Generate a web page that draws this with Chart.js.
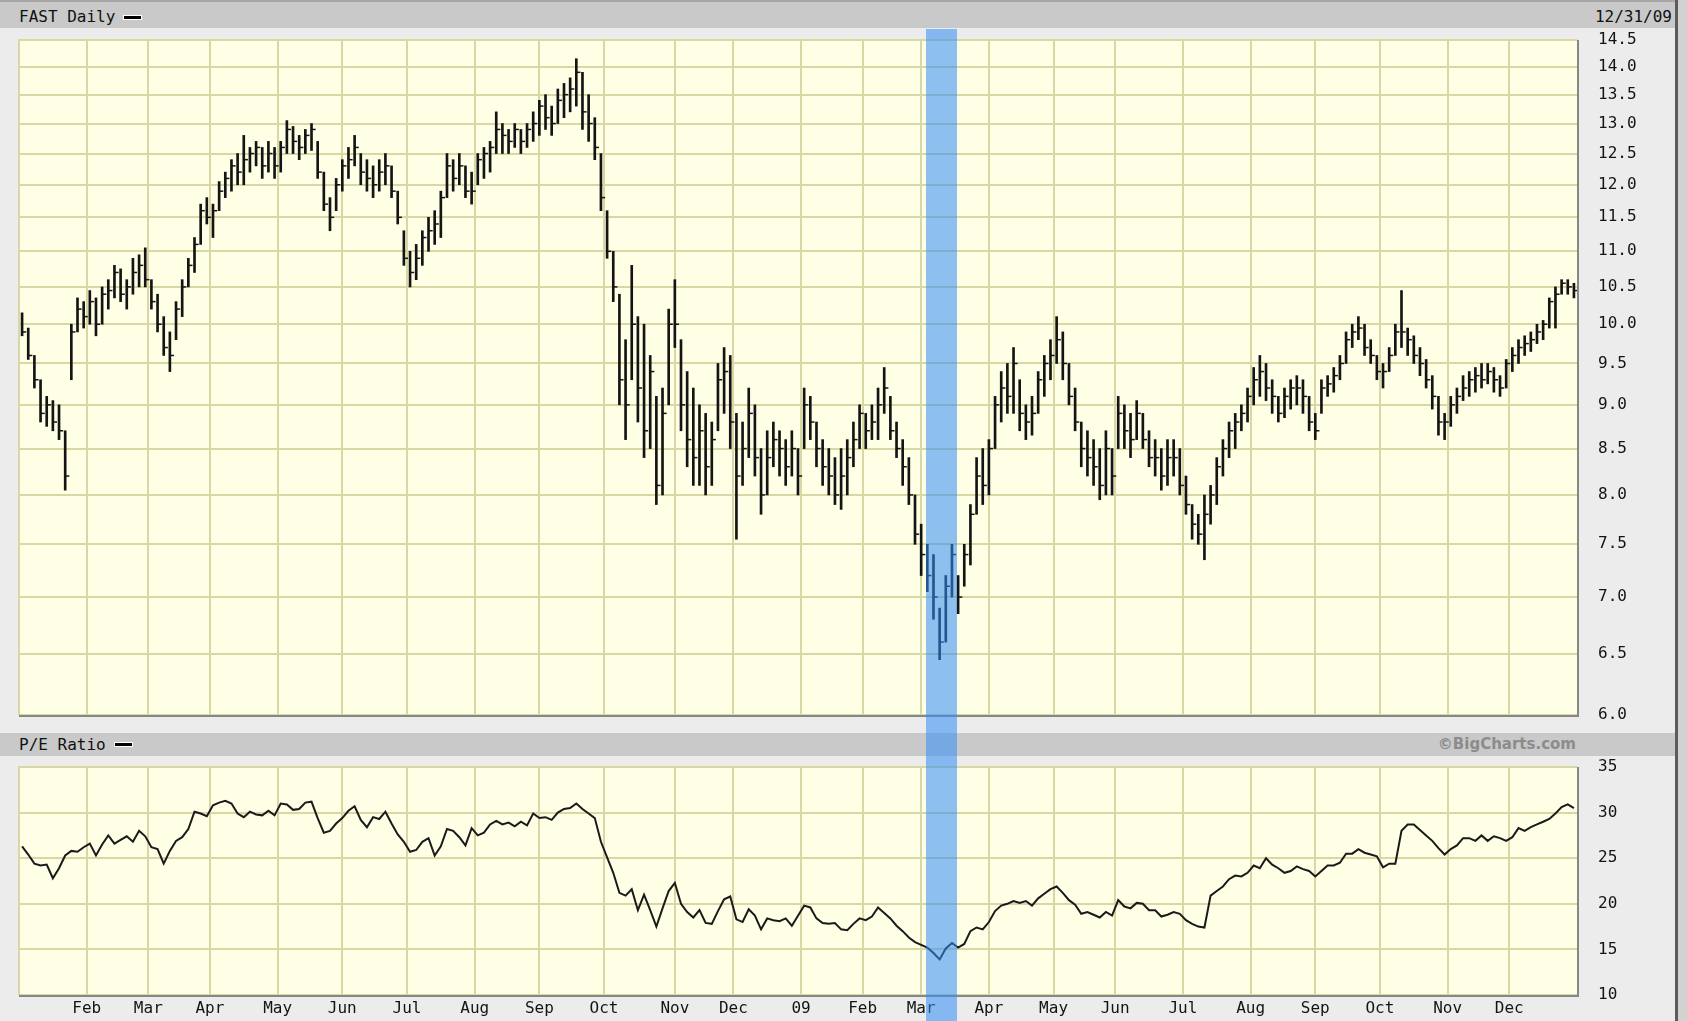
<!DOCTYPE html>
<html>
<head>
<meta charset="utf-8">
<script src="https://cdn.jsdelivr.net/npm/chart.js@4.4.1/dist/chart.umd.min.js"></script>
<style>
html, body { margin: 0; padding: 0; }
body { width: 1687px; height: 1021px; background: #ececec; position: relative; overflow: hidden;
       font-family: "DejaVu Sans Mono", monospace; color: #111; }
.hdr { position: absolute; left: 0; width: 1676px; background: #c9c9c9; }
.hdr .t { position: absolute; left: 19px; font-size: 16px; line-height: 18px; }
.hdr .key { position: absolute; width: 17px; height: 3px; background: #000; border: 1px solid #fff; }
#h1 { top: 0; height: 26px; border-top: 2px solid #a6a6a6; }
#h2 { top: 733px; height: 23px; }
#date { position: absolute; right: 4px; top: 6px; font-size: 16px; line-height: 18px; }
#copy { position: absolute; right: 100px; top: 2px; font: bold 15px "DejaVu Sans", sans-serif; color: #8c8c8c; }
#edge { position: absolute; left: 1675px; top: 0; width: 3px; height: 1021px; background: #5c5c5c; }
#outer { position: absolute; left: 1678px; top: 0; width: 9px; height: 1021px; background: #d2d2d2; }
canvas { position: absolute; left: 0; }
#band { position: absolute; top: 29px; height: 992px; background: rgba(50, 140, 245, 0.55); pointer-events: none; z-index: 5; }
</style>
</head>
<body>
<div class="hdr" id="h1"><span class="t" style="top:6px">FAST Daily</span><span class="key" style="left:123px;top:13px"></span><span id="date">12/31/09</span></div>
<canvas id="top" width="1676" height="695" style="top:30px"></canvas>
<div class="hdr" id="h2"><span class="t" style="top:3px">P/E Ratio</span><span class="key" style="left:114px;top:9px"></span><span id="copy">©BigCharts.com</span></div>
<canvas id="pe" width="1676" height="264" style="top:757px"></canvas>
<div id="edge"></div><div id="outer"></div>
<div id="band"></div>
<script>
// trading-day axis: Jan 2 2008 = day 0, Dec 31 2009 = day 504
const monthStarts = [21, 41, 61, 83, 104, 125, 147, 168, 189, 212, 231, 253, 273, 292, 314, 335, 355, 377, 399, 420, 441, 463, 483];
const monthLabels = ['Feb', 'Mar', 'Apr', 'May', 'Jun', 'Jul', 'Aug', 'Sep', 'Oct', 'Nov', 'Dec', '09', 'Feb', 'Mar', 'Apr', 'May', 'Jun', 'Jul', 'Aug', 'Sep', 'Oct', 'Nov', 'Dec'];
const priceTicks = [6.0, 6.5, 7.0, 7.5, 8.0, 8.5, 9.0, 9.5, 10.0, 10.5, 11.0, 11.5, 12.0, 12.5, 13.0, 13.5, 14.0, 14.5];
const peTicks = [10, 15, 20, 25, 30, 35];
const sampleStep = 2; // one bar / point every 2 trading days
const bandFrom = 293.5, bandTo = 303.5; // highlighted period (trading days)

const priceHigh = [
  10.15, 9.95, 9.6, 9.3, 9.1, 9.05, 9.0, 8.7, 10.0, 10.35,
  10.3, 10.45, 10.35, 10.5, 10.6, 10.8, 10.75, 10.6, 10.9, 10.95,
  11.05, 10.6, 10.4, 10.1, 9.9, 10.3, 10.6, 10.9, 11.2, 11.7,
  11.8, 11.7, 12.05, 12.2, 12.4, 12.5, 12.8, 12.6, 12.7, 12.6,
  12.7, 12.6, 12.7, 13.05, 12.95, 12.8, 12.9, 13.0, 12.7, 12.2,
  11.8, 12.1, 12.4, 12.6, 12.8, 12.5, 12.4, 12.3, 12.4, 12.5,
  12.3, 11.9, 11.3, 11.0, 11.1, 11.3, 11.5, 11.6, 11.9, 12.5,
  12.4, 12.5, 12.3, 12.2, 12.5, 12.6, 12.7, 13.2, 13.0, 12.9,
  13.0, 12.9, 13.0, 13.2, 13.4, 13.5, 13.3, 13.6, 13.7, 13.8,
  14.15, 13.9, 13.5, 13.1, 12.5, 11.6, 11.0, 10.4, 9.8, 10.8,
  10.1, 10.0, 9.6, 9.1, 9.2, 10.2, 10.6, 9.8, 9.4, 9.2,
  9.0, 8.9, 8.8, 9.5, 9.7, 9.6, 8.9, 8.8, 9.2, 9.0,
  8.5, 8.7, 8.8, 8.7, 8.6, 8.7, 8.5, 9.2, 9.1, 8.8,
  8.6, 8.5, 8.4, 8.5, 8.6, 8.8, 9.0, 8.9, 9.0, 9.2,
  9.45, 9.1, 8.8, 8.6, 8.4, 8.0, 7.7, 7.5, 7.4, 6.9,
  7.2, 7.5, 7.2, 7.5, 7.9, 8.4, 8.5, 8.6, 9.1, 9.4,
  9.5, 9.7, 9.3, 9.0, 9.1, 9.4, 9.6, 9.8, 10.1, 9.9,
  9.5, 9.2, 8.8, 8.7, 8.6, 8.5, 8.7, 8.5, 9.1, 9.0,
  8.9, 9.05, 8.9, 8.7, 8.6, 8.5, 8.6, 8.6, 8.5, 8.2,
  7.9, 7.8, 8.0, 8.1, 8.4, 8.6, 8.8, 8.9, 9.0, 9.2,
  9.45, 9.6, 9.5, 9.3, 9.1, 9.2, 9.3, 9.35, 9.3, 9.1,
  8.9, 9.3, 9.35, 9.45, 9.6, 9.9, 10.0, 10.1, 10.0, 9.8,
  9.6, 9.5, 9.7, 10.0, 10.45, 9.95, 9.85, 9.7, 9.55, 9.35,
  9.1, 8.9, 9.1, 9.2, 9.35, 9.4, 9.45, 9.5, 9.5, 9.45,
  9.35, 9.55, 9.7, 9.8, 9.85, 9.9, 10.0, 10.05, 10.35, 10.5,
  10.6, 10.6, 10.55
];
const priceLow = [
  9.85, 9.55, 9.2, 8.8, 8.75, 8.7, 8.6, 8.05, 9.3, 9.9,
  9.95, 10.0, 9.85, 10.0, 10.2, 10.35, 10.3, 10.2, 10.4, 10.5,
  10.5, 10.2, 9.9, 9.6, 9.4, 9.8, 10.1, 10.5, 10.7, 11.1,
  11.4, 11.2, 11.6, 11.8, 11.9, 12.0, 12.0, 12.2, 12.3, 12.1,
  12.2, 12.1, 12.2, 12.5, 12.5, 12.4, 12.5, 12.55, 12.1, 11.6,
  11.3, 11.6, 11.9, 12.1, 12.3, 12.0, 11.9, 11.8, 11.9, 12.0,
  11.8, 11.4, 10.8, 10.5, 10.6, 10.8, 11.0, 11.1, 11.2, 11.8,
  11.9, 12.0, 11.8, 11.7, 12.0, 12.1, 12.2, 12.5, 12.5, 12.5,
  12.6, 12.5, 12.6, 12.7, 12.8, 12.9, 12.8, 13.0, 13.1, 13.2,
  13.3, 12.9, 12.7, 12.4, 11.6, 10.9, 10.3, 9.0, 8.6, 9.3,
  8.8, 8.4, 8.5, 7.9, 8.0, 9.0, 9.7, 8.7, 8.3, 8.1,
  8.1, 8.0, 8.1, 8.7, 8.9, 8.5, 7.55, 8.1, 8.4, 8.2,
  7.8, 8.0, 8.3, 8.2, 8.1, 8.2, 8.0, 8.5, 8.6, 8.3,
  8.1, 8.0, 7.9, 7.85, 8.0, 8.3, 8.5, 8.5, 8.6, 8.6,
  8.9, 8.6, 8.4, 8.1, 7.9, 7.5, 7.2, 7.05, 6.8, 6.45,
  6.6, 7.0, 6.85, 7.1, 7.3, 7.8, 7.9, 8.0, 8.5, 8.8,
  8.9, 8.9, 8.7, 8.6, 8.65, 8.9, 9.1, 9.3, 9.5, 9.3,
  9.0, 8.7, 8.3, 8.2, 8.1, 7.95, 8.0, 8.0, 8.5, 8.5,
  8.4, 8.6, 8.5, 8.3, 8.2, 8.05, 8.1, 8.2, 8.0, 7.8,
  7.55, 7.5, 7.35, 7.7, 7.9, 8.2, 8.4, 8.5, 8.7, 8.8,
  9.0, 9.1, 9.05, 8.9, 8.8, 8.85, 8.95, 9.0, 8.9, 8.7,
  8.6, 8.9, 9.1, 9.15, 9.3, 9.5, 9.7, 9.8, 9.6, 9.5,
  9.3, 9.2, 9.4, 9.6, 9.7, 9.6, 9.5, 9.35, 9.2, 8.95,
  8.65, 8.6, 8.75, 8.9, 9.05, 9.1, 9.15, 9.2, 9.25, 9.15,
  9.1, 9.2, 9.4, 9.5, 9.6, 9.65, 9.75, 9.8, 9.95, 9.95,
  10.4, 10.4, 10.35
];
const priceClose = [
  9.9, 9.6, 9.3, 8.9, 9.0, 8.8, 8.7, 8.2, 9.9, 10.2,
  10.1, 10.3, 10.0, 10.4, 10.45, 10.7, 10.4, 10.5, 10.7, 10.8,
  10.6, 10.3, 10.0, 9.7, 9.6, 10.2, 10.5, 10.8, 11.1, 11.6,
  11.5, 11.6, 11.9, 12.1, 12.3, 12.2, 12.4, 12.5, 12.6, 12.3,
  12.5, 12.3, 12.6, 12.9, 12.7, 12.6, 12.8, 12.9, 12.2, 11.7,
  11.5, 12.0, 12.3, 12.4, 12.6, 12.2, 12.1, 12.0, 12.2, 12.3,
  11.9, 11.5, 10.9, 10.7, 10.9, 11.2, 11.3, 11.4, 11.8, 12.3,
  12.1, 12.3, 11.9, 11.9, 12.4, 12.5, 12.6, 12.9, 12.8, 12.7,
  12.9, 12.7, 12.9, 13.0, 13.3, 13.1, 13.0, 13.4, 13.5, 13.6,
  13.9, 13.2, 13.0, 12.6, 11.8, 11.0, 10.5, 9.3, 9.0, 10.0,
  9.2, 8.7, 9.4, 8.1, 8.9, 10.0, 10.0, 9.0, 8.6, 8.4,
  8.7, 8.3, 8.6, 9.3, 9.4, 8.8, 8.2, 8.5, 8.9, 8.4,
  8.0, 8.4, 8.6, 8.5, 8.3, 8.5, 8.2, 9.0, 8.8, 8.5,
  8.3, 8.2, 8.0, 8.2, 8.4, 8.6, 8.9, 8.7, 8.8, 9.0,
  9.2, 8.7, 8.5, 8.3, 8.0, 7.6, 7.4, 7.2, 7.0, 6.6,
  7.1, 7.4, 7.0, 7.4, 7.8, 8.2, 8.1, 8.5, 9.0, 9.2,
  9.1, 9.5, 8.9, 8.8, 8.9, 9.3, 9.5, 9.6, 9.8, 9.5,
  9.1, 8.8, 8.5, 8.4, 8.3, 8.1, 8.5, 8.2, 8.9, 8.7,
  8.6, 8.9, 8.6, 8.4, 8.4, 8.2, 8.4, 8.4, 8.1, 7.9,
  7.7, 7.6, 7.8, 8.0, 8.3, 8.5, 8.7, 8.8, 8.9, 9.1,
  9.3, 9.4, 9.2, 9.1, 8.9, 9.1, 9.2, 9.2, 9.1, 8.8,
  8.7, 9.2, 9.25, 9.35, 9.5, 9.8, 9.9, 9.95, 9.7, 9.6,
  9.4, 9.4, 9.6, 9.9, 9.9, 9.8, 9.6, 9.5, 9.3, 9.1,
  8.8, 8.8, 9.0, 9.1, 9.2, 9.3, 9.35, 9.3, 9.4, 9.3,
  9.2, 9.5, 9.6, 9.7, 9.75, 9.8, 9.9, 10.0, 10.3, 10.4,
  10.55, 10.5, 10.45
];
const peRatio = [
  26.3, 25.4, 24.4, 24.2, 24.3, 22.8, 23.9, 25.3, 25.8, 25.7,
  26.2, 26.6, 25.3, 26.5, 27.5, 26.6, 27.0, 27.4, 26.8, 28.0,
  27.4, 26.2, 26.0, 24.4, 25.8, 26.9, 27.3, 28.2, 30.1, 29.9,
  29.6, 30.8, 31.1, 31.3, 31.0, 29.9, 29.5, 30.1, 29.8, 29.7,
  30.2, 29.7, 31.0, 30.9, 30.3, 30.4, 31.1, 31.2, 29.4, 27.8,
  28.0, 28.8, 29.4, 30.2, 30.7, 29.2, 28.4, 29.5, 29.3, 30.1,
  28.8, 27.6, 26.8, 25.7, 25.9, 26.8, 27.2, 25.3, 26.3, 28.2,
  28.0, 27.3, 26.4, 28.3, 27.5, 27.8, 28.7, 29.1, 28.7, 28.9,
  28.5, 29.0, 28.6, 29.9, 29.4, 29.5, 29.2, 30.0, 30.4, 30.5,
  31.0, 30.4, 29.9, 29.4, 26.8, 25.1, 23.4, 21.2, 20.9, 21.6,
  19.3, 21.0, 19.3, 17.5, 19.5, 21.4, 22.3, 20.0, 19.1, 18.5,
  19.3, 17.9, 17.8, 19.2, 20.5, 20.8, 18.3, 18.0, 19.4, 18.7,
  17.2, 18.4, 18.2, 18.1, 18.4, 17.6, 18.7, 19.8, 19.6, 18.4,
  17.9, 17.8, 17.9, 17.2, 17.1, 17.8, 18.4, 18.2, 18.6, 19.6,
  19.0, 18.4, 17.6, 17.0, 16.3, 15.8, 15.5, 15.2, 14.6, 13.9,
  15.1, 15.7, 15.2, 15.6, 17.0, 17.4, 17.2, 18.0, 19.2, 19.8,
  20.0, 20.3, 20.1, 20.3, 19.8, 20.6, 21.1, 21.6, 21.9, 21.2,
  20.4, 19.9, 18.9, 19.1, 18.8, 18.5, 19.1, 18.7, 20.4, 19.7,
  19.5, 20.1, 20.0, 19.3, 19.3, 18.6, 18.8, 19.1, 18.9, 18.2,
  17.8, 17.5, 17.4, 20.9, 21.4, 21.9, 22.7, 23.1, 23.0, 23.4,
  24.2, 23.9, 25.0, 24.3, 23.9, 23.4, 23.6, 24.1, 23.8, 23.6,
  23.0, 23.6, 24.2, 24.2, 24.5, 25.5, 25.5, 26.0, 25.6, 25.4,
  25.2, 24.0, 24.4, 24.4, 28.0, 28.7, 28.7, 28.1, 27.5, 26.9,
  26.1, 25.4, 26.0, 26.4, 27.2, 27.2, 26.9, 27.5, 26.9, 27.4,
  27.2, 26.9, 27.3, 28.3, 28.0, 28.4, 28.7, 29.0, 29.3, 29.9,
  30.6, 30.9, 30.5
];

const plotBg = '#ffffe6';
const gridColor = '#d9d7a3';
const inkColor = '#141414';
const tickFont = { family: '"DejaVu Sans Mono", monospace', size: 16 };

const day = (i) => i * sampleStep;
const rangeBars = priceHigh.map((h, i) => ({ x: day(i), y: [priceLow[i], h] }));
const closeTicks = priceClose.map((c, i) => ({ x: day(i) + 0.7, y: c }));
const pePoints = peRatio.map((v, i) => ({ x: day(i), y: v }));

const panelFrame = {
  id: 'panelFrame',
  beforeDraw(chart) {
    const { ctx, chartArea: a } = chart;
    ctx.save();
    ctx.fillStyle = plotBg;
    ctx.fillRect(a.left, a.top, a.right - a.left, a.bottom - a.top);
    ctx.restore();
  },
  afterDraw(chart) {
    const { ctx, chartArea: a } = chart;
    ctx.save();
    ctx.lineWidth = 2;
    ctx.strokeStyle = gridColor;
    ctx.beginPath();
    ctx.moveTo(a.left, a.bottom); ctx.lineTo(a.left, a.top); ctx.lineTo(a.right, a.top);
    ctx.stroke();
    ctx.strokeStyle = '#878787';
    ctx.beginPath();
    ctx.moveTo(a.left, a.bottom + 1); ctx.lineTo(a.right + 1, a.bottom + 1); ctx.lineTo(a.right + 1, a.top);
    ctx.stroke();
    ctx.restore();
  }
};

function xScale(showLabels) {
  return {
    type: 'linear', min: -1, max: 505, offset: false,
    afterBuildTicks: (s) => { s.ticks = monthStarts.map(v => ({ value: v })); },
    ticks: {
      display: showLabels, autoSkip: false, maxRotation: 0, padding: 4,
      font: tickFont, color: inkColor,
      callback: (v) => monthLabels[monthStarts.indexOf(v)]
    },
    grid: { color: gridColor, lineWidth: 2, drawTicks: false, offset: false },
    border: { display: false },
    afterFit: (s) => { s.height = showLabels ? 26 : 0; }
  };
}

// right-hand value axis: labels start 21px right of the plot, no padding added above/below
function yGrid() {
  return { color: gridColor, lineWidth: 2, drawTicks: true, tickLength: 21, tickColor: 'rgba(0,0,0,0)' };
}

const topChart = new Chart(document.getElementById('top'), {
  type: 'bar',
  data: {
    datasets: [
      { type: 'bar', data: rangeBars, backgroundColor: inkColor, borderWidth: 0, barThickness: 2 },
      { type: 'scatter', data: closeTicks, pointStyle: 'line', pointRadius: 2, borderColor: inkColor, borderWidth: 1.5 }
    ]
  },
  options: {
    responsive: false, animation: false, events: [],
    layout: { padding: { left: 19, top: 10, bottom: 10, right: 0 } },
    plugins: { legend: { display: false }, tooltip: { enabled: false } },
    scales: {
      x: xScale(false),
      y: {
        type: 'logarithmic', position: 'right', min: 6, max: 14.5, beginAtZero: false,
        afterBuildTicks: (s) => { s.ticks = priceTicks.map(v => ({ value: v })); },
        ticks: { padding: 0, font: tickFont, color: inkColor, callback: (v) => Number(v).toFixed(1) },
        grid: yGrid(),
        border: { display: false },
        afterFit: (s) => { s.width = 99; }
      }
    }
  },
  plugins: [panelFrame]
});

new Chart(document.getElementById('pe'), {
  type: 'line',
  data: {
    datasets: [
      { data: pePoints, borderColor: '#1a1a1a', borderWidth: 2, pointRadius: 0, tension: 0, fill: false }
    ]
  },
  options: {
    responsive: false, animation: false, events: [],
    layout: { padding: { left: 19, top: 10, bottom: 0, right: 0 } },
    plugins: { legend: { display: false }, tooltip: { enabled: false } },
    scales: {
      x: xScale(true),
      y: {
        type: 'linear', position: 'right', min: 10, max: 35,
        afterBuildTicks: (s) => { s.ticks = peTicks.map(v => ({ value: v })); },
        ticks: { padding: 0, font: tickFont, color: inkColor },
        grid: yGrid(),
        border: { display: false },
        afterFit: (s) => { s.width = 99; }
      }
    }
  },
  plugins: [panelFrame]
});

// highlight band, placed with the shared trading-day scale
const bx = topChart.scales.x;
const band = document.getElementById('band');
const x1 = bx.getPixelForValue(bandFrom), x2 = bx.getPixelForValue(bandTo);
band.style.left = x1 + 'px';
band.style.width = (x2 - x1) + 'px';
</script>
</body>
</html>
